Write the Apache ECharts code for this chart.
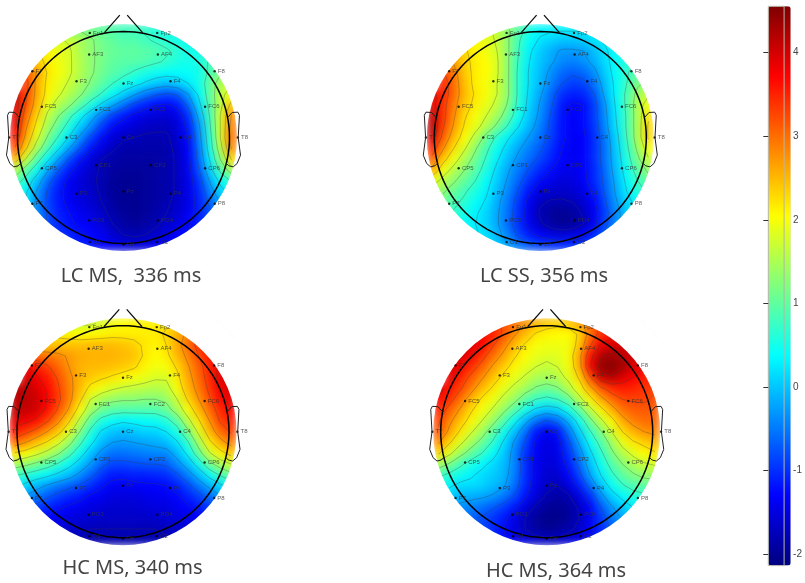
<!DOCTYPE html>
<html><head><meta charset="utf-8">
<style>
html,body{margin:0;padding:0;background:#fff}
#c{width:805px;height:583px}
canvas[data-zr-dom-id="zr_0"]{filter:blur(4px)}
canvas[data-zr-dom-id="zr_1"]{filter:blur(0.4px)}
</style>
<script src="https://cdn.jsdelivr.net/npm/echarts@6/dist/echarts.min.js"></script>
</head><body><div id="c"></div>
<script>
const n = null;
const panelTitles = ['LC MS,  336 ms','LC SS, 356 ms','HC MS, 340 ms','HC MS, 364 ms'];
const lcMs336 = [
[n,n,n,n,n,1.3,1.2,1.1,1.0,0.9,0.8,0.8,0.7,0.6,0.5,0.5,0.5,n,n,n,n],
[n,n,n,1.9,1.8,1.7,1.5,1.3,1.1,1.0,0.9,0.9,0.8,0.7,0.6,0.5,0.5,0.5,0.5,n,n],
[n,n,2.3,2.1,1.9,1.8,1.5,1.3,1.15,1.05,1.0,1.0,0.95,0.9,0.8,0.65,0.5,0.5,0.5,0.5,n],
[n,2.6,2.4,2.15,1.95,1.8,1.55,1.3,1.15,1.0,0.95,0.95,0.9,0.8,0.7,0.55,0.5,0.55,0.8,1.0,n],
[n,3.2,2.7,2.2,2.0,1.8,1.55,1.3,1.1,0.95,0.85,0.7,0.55,0.45,0.4,0.4,0.4,0.5,0.85,1.2,n],
[n,3.4,2.6,2.15,1.9,1.7,1.45,1.2,1.0,0.75,0.55,0.4,0.2,0.05,-0.05,0.05,0.25,0.5,1.0,1.5,1.7],
[3.9,3.3,2.6,2.1,1.8,1.55,1.3,1.0,0.7,0.4,0.1,-0.2,-0.5,-0.7,-0.8,-0.7,-0.25,0.35,1.0,1.6,2.0],
[4.0,3.2,2.5,1.9,1.55,1.3,0.95,0.55,0.15,-0.2,-0.55,-0.9,-1.1,-1.25,-1.3,-1.15,-0.65,0.15,0.9,1.65,2.4],
[3.9,3.0,2.3,1.65,1.25,0.85,0.4,-0.05,-0.5,-0.9,-1.15,-1.35,-1.5,-1.55,-1.6,-1.45,-1.0,-0.1,0.8,1.8,2.8],
[3.8,2.8,2.1,1.45,1.0,0.55,0.05,-0.4,-0.9,-1.25,-1.45,-1.55,-1.65,-1.7,-1.7,-1.55,-1.15,-0.3,0.7,1.8,2.9],
[3.6,2.6,1.85,1.2,0.7,0.2,-0.35,-0.85,-1.25,-1.55,-1.7,-1.75,-1.8,-1.8,-1.8,-1.6,-1.25,-0.4,0.6,1.8,3.0],
[3.2,2.3,1.5,0.85,0.3,-0.25,-0.75,-1.2,-1.5,-1.7,-1.85,-1.85,-1.85,-1.85,-1.85,-1.65,-1.3,-0.5,0.5,1.6,2.8],
[2.5,1.7,0.95,0.35,-0.25,-0.8,-1.2,-1.55,-1.75,-1.85,-1.9,-1.9,-1.9,-1.9,-1.85,-1.7,-1.35,-0.6,0.3,1.3,2.3],
[1.6,1.0,0.45,-0.2,-0.75,-1.15,-1.45,-1.65,-1.8,-1.9,-1.95,-1.95,-1.95,-1.9,-1.85,-1.7,-1.4,-0.75,0.1,0.9,1.5],
[1.0,0.55,0.0,-0.6,-1.05,-1.35,-1.55,-1.7,-1.8,-1.95,-2.0,-2.0,-1.95,-1.9,-1.85,-1.7,-1.45,-0.95,-0.2,0.4,0.8],
[0.6,0.3,-0.3,-0.8,-1.15,-1.4,-1.55,-1.65,-1.8,-1.95,-2.0,-2.0,-1.95,-1.9,-1.85,-1.7,-1.45,-1.05,-0.45,0.1,0.4],
[n,0.2,-0.35,-0.85,-1.15,-1.35,-1.5,-1.6,-1.75,-1.9,-2.0,-2.0,-1.95,-1.9,-1.8,-1.65,-1.45,-1.1,-0.65,-0.2,0.1],
[n,0,-0.4,-0.8,-1.1,-1.25,-1.4,-1.5,-1.65,-1.85,-1.95,-2.0,-1.95,-1.85,-1.75,-1.6,-1.4,-1.1,-0.8,-0.4,n],
[n,n,-0.4,-0.8,-1.05,-1.2,-1.3,-1.4,-1.55,-1.75,-1.9,-1.95,-1.9,-1.8,-1.65,-1.5,-1.3,-1.1,-0.85,n,n],
[n,n,n,-0.8,-1.0,-1.1,-1.2,-1.3,-1.4,-1.6,-1.75,-1.8,-1.75,-1.65,-1.5,-1.35,-1.2,-1.05,n,n,n],
[n,n,n,n,n,-1.0,-1.1,-1.15,-1.3,-1.4,-1.5,-1.55,-1.5,-1.45,-1.3,-1.2,-1.1,n,n,n,n]
];
const lcSs356 = [
[n,n,n,n,n,1.9,1.6,1.3,0.95,0.55,0.35,0.3,0.3,0.3,0.3,0.3,0.3,n,n,n,n],
[n,n,n,2.1,2.0,1.9,1.7,1.3,0.8,0.4,0.2,0.1,0.0,0.0,0.05,0.2,0.3,0.4,0.4,n,n],
[n,n,2.5,2.3,2.1,1.95,1.75,1.3,0.75,0.3,0.05,-0.15,-0.3,-0.3,-0.25,-0.05,0.2,0.4,0.55,0.6,n],
[n,2.9,2.7,2.35,2.15,2.05,1.8,1.3,0.7,0.25,0.0,-0.2,-0.4,-0.45,-0.35,-0.15,0.15,0.4,0.6,0.8,n],
[n,3.3,2.9,2.4,2.15,2.05,1.8,1.3,0.65,0.2,-0.05,-0.35,-0.6,-0.7,-0.6,-0.35,0.05,0.4,0.7,1.0,n],
[n,3.5,3.0,2.45,2.15,2.0,1.75,1.3,0.65,0.2,-0.1,-0.45,-0.75,-0.9,-0.85,-0.55,-0.05,0.35,0.75,1.15,1.4],
[3.9,3.5,3.0,2.5,2.2,2.0,1.75,1.3,0.65,0.15,-0.2,-0.6,-1.0,-1.1,-1.05,-0.75,-0.15,0.35,0.85,1.4,1.7],
[3.9,3.4,2.9,2.4,2.15,1.9,1.65,1.2,0.6,0.1,-0.3,-0.7,-1.15,-1.3,-1.25,-0.9,-0.3,0.3,0.85,1.5,2.0],
[4.1,3.4,2.8,2.3,2.0,1.75,1.45,1.0,0.45,0.0,-0.35,-0.8,-1.2,-1.35,-1.25,-0.9,-0.35,0.25,0.8,1.5,2.2],
[4.2,3.3,2.7,2.2,1.9,1.55,1.15,0.7,0.25,-0.1,-0.45,-0.85,-1.2,-1.35,-1.25,-0.95,-0.4,0.2,0.8,1.5,2.3],
[4.0,3.1,2.5,2.05,1.6,1.1,0.65,0.3,0.0,-0.3,-0.55,-0.9,-1.2,-1.35,-1.3,-1.0,-0.5,0.1,0.75,1.5,2.3],
[3.5,2.8,2.25,1.8,1.3,0.85,0.45,0.1,-0.2,-0.45,-0.7,-1.0,-1.25,-1.4,-1.3,-1.0,-0.55,0.05,0.65,1.35,2.0],
[3.1,2.4,1.95,1.5,1.1,0.7,0.3,-0.05,-0.35,-0.6,-0.85,-1.1,-1.3,-1.4,-1.3,-1.0,-0.55,0.0,0.55,1.15,1.7],
[2.6,2.0,1.6,1.25,0.95,0.55,0.15,-0.2,-0.5,-0.8,-1.05,-1.25,-1.4,-1.45,-1.3,-1.05,-0.6,-0.05,0.45,0.95,1.35],
[2.0,1.6,1.3,1.05,0.75,0.4,0.05,-0.3,-0.65,-1.0,-1.25,-1.45,-1.55,-1.5,-1.35,-1.05,-0.65,-0.15,0.35,0.75,1.05],
[1.5,1.3,1.05,0.8,0.55,0.3,-0.05,-0.4,-0.8,-1.2,-1.5,-1.6,-1.65,-1.6,-1.45,-1.15,-0.7,-0.2,0.25,0.6,0.8],
[n,1.1,0.85,0.65,0.4,0.2,-0.15,-0.5,-0.95,-1.4,-1.7,-1.8,-1.8,-1.75,-1.6,-1.3,-0.8,-0.3,0.1,0.4,0.6],
[n,0.9,0.7,0.5,0.3,0.1,-0.2,-0.55,-1.0,-1.45,-1.8,-1.95,-2.0,-1.95,-1.7,-1.4,-0.9,-0.4,0.0,0.3,n],
[n,n,0.55,0.4,0.25,0.1,-0.2,-0.6,-1.0,-1.4,-1.7,-1.9,-2.0,-1.95,-1.75,-1.35,-0.85,-0.4,-0.05,n,n],
[n,n,n,0.35,0.3,0.15,-0.1,-0.45,-0.85,-1.15,-1.35,-1.5,-1.55,-1.5,-1.35,-1.05,-0.65,-0.3,n,n,n],
[n,n,n,n,n,0.25,0.05,-0.2,-0.5,-0.7,-0.85,-0.95,-1.0,-1.0,-0.9,-0.7,-0.45,n,n,n,n]
];
const hcMs340 = [
[n,n,n,n,n,1.7,1.7,1.7,1.8,1.95,2.05,2.1,2.1,2.15,2.2,2.3,2.5,n,n,n,n],
[n,n,n,2.2,2.15,2.1,2.05,2.05,2.1,2.15,2.15,2.15,2.15,2.15,2.3,2.55,2.85,3.1,3.3,n,n],
[n,n,2.4,2.4,2.45,2.45,2.45,2.5,2.5,2.5,2.45,2.35,2.2,2.1,2.25,2.6,3.0,3.4,3.6,3.7,n],
[n,3.2,3.05,2.95,2.85,2.7,2.6,2.55,2.55,2.55,2.5,2.45,2.2,2.05,2.15,2.5,2.85,3.25,3.55,3.8,n],
[n,3.8,3.55,3.3,3.05,2.75,2.55,2.5,2.5,2.45,2.4,2.3,2.1,1.95,2.0,2.3,2.7,3.1,3.5,3.85,n],
[n,4.0,3.8,3.55,3.2,2.85,2.55,2.4,2.3,2.2,2.1,2.0,1.9,1.8,1.8,2.15,2.6,3.0,3.45,3.9,4.0],
[4.2,4.1,3.95,3.7,3.3,2.9,2.5,2.15,1.95,1.8,1.7,1.65,1.6,1.55,1.6,2.0,2.5,2.9,3.35,3.8,4.0],
[4.2,4.15,4.05,3.75,3.35,2.9,2.35,1.75,1.5,1.35,1.3,1.3,1.25,1.25,1.35,1.75,2.3,2.75,3.2,3.65,3.9],
[4.1,4.1,4.0,3.65,3.2,2.7,2.05,1.45,1.1,0.95,0.9,0.9,0.9,0.9,1.05,1.45,2.0,2.5,3.0,3.45,3.7],
[3.9,3.85,3.65,3.3,2.85,2.3,1.65,1.0,0.6,0.4,0.3,0.35,0.4,0.45,0.6,0.95,1.6,2.2,2.75,3.3,3.5],
[3.6,3.35,3.1,2.75,2.4,1.9,1.25,0.65,0.2,0.0,-0.05,0.0,0.1,0.1,0.25,0.55,1.15,1.85,2.5,3.0,3.3],
[3.0,2.75,2.45,2.2,1.85,1.4,0.85,0.35,-0.05,-0.25,-0.3,-0.25,-0.2,-0.15,-0.05,0.2,0.7,1.45,2.15,2.6,2.9],
[2.2,2.05,1.85,1.6,1.3,0.9,0.45,0.0,-0.35,-0.55,-0.55,-0.5,-0.45,-0.4,-0.4,-0.1,0.35,1.05,1.7,2.1,2.4],
[1.5,1.35,1.15,0.95,0.7,0.4,0.05,-0.3,-0.65,-0.85,-0.85,-0.8,-0.75,-0.75,-0.7,-0.4,-0.05,0.45,1.1,1.5,1.75],
[0.8,0.65,0.5,0.35,0.15,-0.05,-0.35,-0.65,-0.95,-1.15,-1.15,-1.1,-1.1,-1.05,-1.0,-0.8,-0.45,-0.05,0.4,0.8,1.1],
[0.4,0.1,-0.1,-0.3,-0.5,-0.65,-0.8,-1.0,-1.2,-1.35,-1.4,-1.35,-1.3,-1.3,-1.25,-1.1,-0.85,-0.5,-0.15,0.15,0.4],
[n,-0.3,-0.5,-0.7,-0.9,-1.05,-1.15,-1.3,-1.4,-1.5,-1.5,-1.5,-1.45,-1.4,-1.4,-1.3,-1.1,-0.9,-0.6,-0.3,-0.1],
[n,-0.7,-0.9,-1.05,-1.2,-1.3,-1.4,-1.5,-1.55,-1.6,-1.6,-1.6,-1.55,-1.5,-1.5,-1.4,-1.3,-1.15,-0.9,-0.7,n],
[n,n,-1.2,-1.3,-1.4,-1.5,-1.55,-1.6,-1.65,-1.65,-1.65,-1.65,-1.65,-1.65,-1.6,-1.5,-1.45,-1.35,-1.2,n,n],
[n,n,n,-1.5,-1.55,-1.65,-1.7,-1.75,-1.75,-1.75,-1.75,-1.75,-1.75,-1.75,-1.7,-1.65,-1.6,-1.5,n,n,n],
[n,n,n,n,n,-1.7,-1.75,-1.8,-1.85,-1.85,-1.85,-1.85,-1.85,-1.8,-1.8,-1.75,-1.7,n,n,n,n]
];
const hcMs364 = [
[n,n,n,n,n,3.4,3.2,3.0,2.75,2.55,2.4,2.35,2.4,2.6,3.0,3.3,3.5,n,n,n,n],
[n,n,n,3.9,3.7,3.55,3.2,2.8,2.5,2.2,2.1,2.05,2.05,2.3,2.95,3.4,3.6,3.75,3.85,n,n],
[n,n,4.1,3.95,3.7,3.3,2.9,2.5,2.2,2.0,1.95,1.95,1.95,2.4,3.2,3.8,4.0,3.95,3.85,3.85,n],
[n,4.2,4.0,3.75,3.4,3.0,2.65,2.3,2.05,1.9,1.85,1.85,2.0,2.6,3.6,4.2,4.35,4.2,3.95,3.85,n],
[n,4.0,3.75,3.45,3.1,2.7,2.4,2.1,1.9,1.75,1.65,1.75,1.95,2.55,3.7,4.4,4.5,4.3,4.0,3.75,n],
[n,3.85,3.5,3.15,2.8,2.45,2.15,1.9,1.7,1.5,1.45,1.55,1.85,2.3,3.15,4.0,4.2,3.95,3.75,3.55,3.5],
[3.9,3.6,3.3,2.9,2.5,2.2,1.9,1.65,1.45,1.2,1.1,1.2,1.55,2.0,2.6,3.15,3.45,3.55,3.5,3.4,3.3],
[3.7,3.4,3.0,2.55,2.2,1.95,1.65,1.4,1.0,0.75,0.65,0.75,1.05,1.6,2.1,2.6,3.0,3.25,3.3,3.3,3.2],
[3.5,3.1,2.7,2.3,2.0,1.7,1.35,0.95,0.5,0.15,0.0,0.1,0.45,1.0,1.6,2.1,2.55,2.95,3.1,3.15,3.1],
[3.3,2.85,2.45,2.1,1.75,1.4,0.95,0.4,-0.1,-0.55,-0.8,-0.6,-0.15,0.45,1.1,1.65,2.1,2.6,2.9,3.0,3.05],
[3.2,2.65,2.2,1.8,1.45,1.0,0.5,0.0,-0.55,-1.15,-1.35,-1.2,-0.55,0.1,0.7,1.2,1.75,2.25,2.55,2.75,2.85],
[2.8,2.3,1.85,1.45,1.1,0.7,0.2,-0.3,-0.8,-1.3,-1.5,-1.4,-0.85,-0.2,0.4,0.9,1.4,1.9,2.2,2.35,2.5],
[2.3,1.85,1.4,1.05,0.75,0.4,0.05,-0.4,-0.95,-1.35,-1.5,-1.45,-1.0,-0.45,0.15,0.65,1.15,1.55,1.85,2.05,2.2],
[1.5,1.2,0.85,0.55,0.35,0.15,-0.05,-0.4,-1.0,-1.4,-1.55,-1.5,-1.15,-0.65,-0.05,0.45,0.9,1.25,1.5,1.7,1.8],
[0.85,0.65,0.45,0.3,0.15,0.05,-0.1,-0.45,-1.0,-1.4,-1.6,-1.6,-1.3,-0.85,-0.25,0.25,0.65,1.0,1.2,1.35,1.4],
[0.5,0.3,0.15,0.15,0.1,-0.05,-0.2,-0.55,-1.05,-1.45,-1.65,-1.75,-1.55,-1.15,-0.6,-0.05,0.4,0.7,0.9,1.0,1.05],
[n,0.05,-0.1,-0.15,-0.2,-0.3,-0.5,-0.8,-1.2,-1.55,-1.8,-1.9,-1.8,-1.5,-1.05,-0.4,0.05,0.35,0.55,0.65,0.7],
[n,-0.25,-0.35,-0.45,-0.55,-0.7,-0.9,-1.15,-1.5,-1.8,-1.95,-2.0,-1.95,-1.7,-1.3,-0.75,-0.3,0.0,0.25,0.35,n],
[n,n,-0.5,-0.65,-0.8,-0.95,-1.15,-1.45,-1.75,-1.95,-2.05,-2.05,-1.95,-1.75,-1.4,-0.95,-0.55,-0.2,0.0,n,n],
[n,n,n,-0.75,-0.85,-1.05,-1.25,-1.5,-1.75,-1.9,-2.0,-1.95,-1.85,-1.65,-1.35,-1.05,-0.7,-0.4,n,n,n],
[n,n,n,n,n,-1.05,-1.2,-1.4,-1.55,-1.65,-1.7,-1.7,-1.6,-1.45,-1.25,-1.0,-0.8,n,n,n,n]
];
const electrodeNames = ['Fp1','Fp2','AF3','AF4','F7','F3','Fz','F4','F8','FC5','FC1','FC2','FC6','T7','C3','Cz','C4','T8','CP5','CP1','CP2','CP6','P7','P3','Pz','P4','P8','PO3','PO4','O1','Oz','O2'];
const electrodeX = [-.318,.318,-.324,.324,-.86,-.443,0,.443,.86,-.77,-.258,.258,.77,-1.079,-.538,0,.538,1.079,-.77,-.258,.258,.77,-.86,-.443,0,.443,.86,-.324,.324,-.318,0,.318];
const electrodeY = [.987,.987,.783,.783,.625,.531,.509,.531,.625,.29,.261,.261,.29,0,0,0,0,0,-.29,-.261,-.261,-.29,-.625,-.531,-.509,-.531,-.625,-.783,-.783,-.987,-1.009,-.987];
const colorbarTicks = [-2,-1,0,1,2,3,4];
const contourLevels = [-1.75,-1.25,-0.75,-0.25,0.25,0.75,1.25,1.75,2.25,2.75,3.25,3.75,4.25];
const noseLine = [[-.18,.99],[-.035,1.154],[n,n],[.035,1.154],[.18,.99]];
const earLeft = [[-.984,.189],[-1.025,.236],[-1.079,.239],[-1.094,.21],[-1.082,0],[-1.104,-.167],[-1.072,-.245],[-1.035,-.277],[-.994,-.267],[-.969,-.242]];

const panels = [lcMs336,lcSs356,hcMs340,hcMs364];
const centers = [[123.5,137.5],[540.3,137.5],[123,431.7],[546.7,431.7]];
const titlePos = [[131,266],[544,266],[132.5,558],[556,561]];
const HALF = 113.5, UNIT = 106, EXT = HALF/UNIT, CELLS = 21, STEP = 2*EXT/CELLS;
const VMIN = -2.136, VMAX = 4.553;
const jet = ['#00007f','#0000ff','#007fff','#00ffff','#7fff7f','#ffff00','#ff7f00','#ff0000','#7f0000'];

function contours(rows){
  const out = [];
  const px = c => -EXT + (c+.5)*STEP, py = r => EXT - (r+.5)*STEP;
  contourLevels.forEach(L=>{
    for(let r=0;r<CELLS-1;r++)for(let c=0;c<CELLS-1;c++){
      const a=rows[r][c],b=rows[r][c+1],d=rows[r+1][c],e=rows[r+1][c+1];
      if(a===n||b===n||d===n||e===n)continue;
      const pts=[];
      const cross=(v1,v2,x1,y1,x2,y2)=>{ if((v1<L)!==(v2<L)){const t=(L-v1)/(v2-v1);pts.push([x1+(x2-x1)*t,y1+(y2-y1)*t]);}};
      cross(a,b,px(c),py(r),px(c+1),py(r));
      cross(b,e,px(c+1),py(r),px(c+1),py(r+1));
      cross(e,d,px(c+1),py(r+1),px(c),py(r+1));
      cross(d,a,px(c),py(r+1),px(c),py(r));
      for(let i=0;i+1<pts.length;i+=2){out.push(pts[i],pts[i+1],[n,n]);}
    }
  });
  return out;
}

const headCircle=[];for(let i=0;i<=120;i++){headCircle.push([Math.cos(i/60*Math.PI),Math.sin(i/60*Math.PI)]);}
const cats=[...Array(CELLS).keys()];
const grid=[],xAxis=[],yAxis=[],series=[],graphicEls=[],titles=[];
panels.forEach((rows,i)=>{
  const [cx,cy]=centers[i];
  grid.push({left:cx-HALF,top:cy-HALF,width:2*HALF,height:2*HALF,show:false});
  xAxis.push({type:'category',gridIndex:i,data:cats,show:false,boundaryGap:true});
  xAxis.push({type:'value',gridIndex:i,min:-EXT,max:EXT,show:false});
  yAxis.push({type:'category',gridIndex:i,data:cats,show:false,inverse:true,boundaryGap:true});
  yAxis.push({type:'value',gridIndex:i,min:-EXT,max:EXT,show:false});
  const cells=[];rows.forEach((row,r)=>row.forEach((v,c)=>{if(v!==n)cells.push([c,r,v]);}));
  series.push({type:'heatmap',xAxisIndex:2*i,yAxisIndex:2*i,data:cells,silent:true,progressive:0,animation:false,zlevel:0});
});
panels.forEach((rows,i)=>{
  const [cx,cy]=centers[i];
  const common={xAxisIndex:2*i+1,yAxisIndex:2*i+1,type:'line',symbol:'none',silent:true,animation:false,zlevel:1,clip:false};
  series.push(Object.assign({},common,{data:contours(rows),z:2,lineStyle:{color:'rgba(60,60,60,0.38)',width:0.8}}));
  series.push(Object.assign({},common,{data:headCircle,z:8,lineStyle:{color:'#000',width:1.5}}));
  series.push(Object.assign({},common,{data:noseLine,z:8,lineStyle:{color:'#111',width:1.3}}));
  series.push({type:'scatter',xAxisIndex:2*i+1,yAxisIndex:2*i+1,silent:true,animation:false,zlevel:1,z:9,clip:false,symbolSize:2.4,
    itemStyle:{color:'#000'},
    data:electrodeNames.map((nm,k)=>({value:[electrodeX[k],electrodeY[k]],name:nm})),
    label:{show:true,position:'right',distance:2,formatter:'{b}',fontSize:6,color:'#333',fontFamily:'Liberation Sans'}});
  graphicEls.push({type:'ring',shape:{cx,cy,r:145,r0:HALF},style:{fill:'#fff'},z:3,zlevel:1,silent:true});
  [1,-1].forEach(side=>graphicEls.push({type:'polyline',z:20,zlevel:1,silent:true,
    shape:{points:earLeft.map(p=>[cx+side*p[0]*UNIT,cy-p[1]*UNIT])},
    style:{stroke:'#222',lineWidth:1,fill:null}}));
  titles.push({text:panelTitles[i],left:titlePos[i][0],top:titlePos[i][1],textAlign:'center',padding:0,zlevel:1,z:10,
    textStyle:{fontFamily:'Noto Sans',fontWeight:'normal',fontSize:20,color:'#444'}});
});
grid.push({left:768.3,top:6.3,width:22.4,height:559.3,show:true,borderColor:'#b5b5a8',borderWidth:1,backgroundColor:'transparent',zlevel:1,z:5});
xAxis.push({type:'value',gridIndex:4,show:false,min:0,max:1});
yAxis.push({type:'value',gridIndex:4,min:VMIN,max:VMAX,position:'right',zlevel:1,z:6,splitLine:{show:false},
  axisLine:{show:false},
  axisTick:{show:true,inside:true,length:5,customValues:colorbarTicks,lineStyle:{color:'#333',width:1}},
  axisLabel:{show:true,customValues:colorbarTicks,margin:9,fontSize:10,color:'#444',fontFamily:'Liberation Sans'}});

const chart=echarts.init(document.getElementById('c'),null,{renderer:'canvas'});
chart.setOption({
  animation:false,
  title:titles,
  grid,xAxis,yAxis,
  visualMap:{type:'continuous',show:true,min:VMIN,max:VMAX,left:768.3,top:6.3,itemWidth:22.4,itemHeight:559.3,padding:0,
    seriesIndex:[0,1,2,3],calculable:false,realtime:false,hoverLink:false,text:['',''],showLabel:false,zlevel:1,z:4,inRange:{color:jet},borderWidth:0},
  graphic:{elements:graphicEls},
  series
});
</script></body></html>
